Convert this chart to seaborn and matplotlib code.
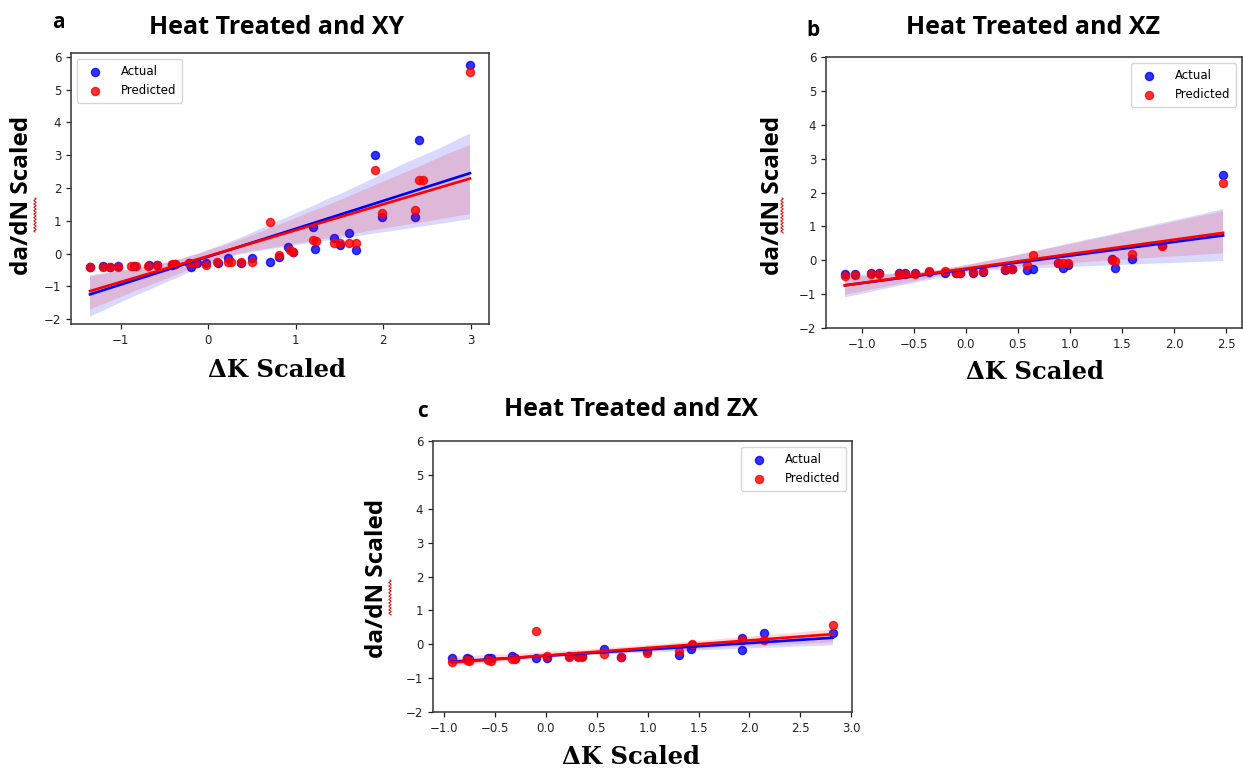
import numpy as np
import matplotlib
matplotlib.use("Agg")
import matplotlib.pyplot as plt
from matplotlib.lines import Line2D
import seaborn as sns

# ---- Heat treated, XY orientation ----
xy_k_actual = [-1.35, -1.20, -1.12, -1.03, -0.85, -0.68, -0.58, -0.41, -0.38, -0.22,
               -0.20, -0.13, -0.02, 0.11, 0.23, 0.38, 0.50, 0.71, 0.81, 0.91,
               0.97, 1.20, 1.22, 1.44, 1.50, 1.61, 1.69, 1.90, 1.98, 2.36,
               2.41, 2.99]
xy_actual = [-0.42, -0.38, -0.40, -0.38, -0.38, -0.35, -0.35, -0.35, -0.32, -0.30,
             -0.40, -0.28, -0.30, -0.28, -0.15, -0.30, -0.15, -0.27, -0.12, 0.21,
             0.04, 0.82, 0.15, 0.46, 0.26, 0.62, 0.11, 3.00, 1.12, 1.12,
             3.46, 5.75]
xy_k_pred = [-1.35, -1.20, -1.12, -1.03, -0.88, -0.83, -0.69, -0.58, -0.41, -0.38,
             -0.22, -0.15, -0.02, 0.10, 0.23, 0.26, 0.38, 0.50, 0.71, 0.81,
             0.93, 0.97, 1.20, 1.23, 1.44, 1.50, 1.61, 1.69, 1.90, 1.98,
             2.36, 2.41, 2.45, 2.99]
xy_pred = [-0.42, -0.42, -0.42, -0.42, -0.38, -0.38, -0.38, -0.35, -0.32, -0.32,
           -0.30, -0.28, -0.35, -0.25, -0.25, -0.25, -0.27, -0.25, 0.95, -0.03,
           0.11, 0.06, 0.41, 0.38, 0.31, 0.31, 0.31, 0.31, 2.55, 1.23,
           1.33, 2.24, 2.24, 5.55]

# ---- Heat treated, XZ orientation ----
xz_k = [-1.16, -1.06, -0.91, -0.83, -0.64, -0.58, -0.49, -0.35, -0.20, -0.09,
        -0.06, 0.07, 0.17, 0.38, 0.44, 0.59, 0.65, 0.89, 0.93, 0.98,
        1.40, 1.43, 1.60, 1.88, 2.47]
xz_actual = [-0.41, -0.42, -0.37, -0.37, -0.37, -0.37, -0.39, -0.34, -0.39, -0.37,
             -0.37, -0.37, -0.35, -0.29, -0.27, -0.30, -0.27, -0.09, -0.24, -0.15,
             0.03, -0.24, 0.03, 0.45, 2.52]
xz_pred = [-0.47, -0.44, -0.42, -0.41, -0.41, -0.41, -0.41, -0.31, -0.32, -0.39,
           -0.39, -0.36, -0.31, -0.27, -0.27, -0.14, 0.15, -0.09, -0.07, -0.07,
           0.01, -0.01, 0.18, 0.43, 2.27]

# ---- Heat treated, ZX orientation ----
zx_k_actual = [-0.92, -0.77, -0.75, -0.57, -0.54, -0.33, -0.30, -0.10, 0.01, 0.23,
               0.32, 0.36, 0.57, 0.74, 0.99, 1.31, 1.43, 1.44, 1.93, 1.93,
               2.14, 2.82]
zx_actual = [-0.40, -0.40, -0.44, -0.40, -0.40, -0.35, -0.40, -0.40, -0.41, -0.36,
             -0.36, -0.36, -0.13, -0.38, -0.20, -0.33, -0.15, -0.03, 0.18, -0.18,
             0.32, 0.32]
zx_k_pred = [-0.92, -0.77, -0.75, -0.57, -0.54, -0.33, -0.30, -0.10, 0.01, 0.23,
             0.32, 0.36, 0.57, 0.74, 0.99, 1.31, 1.44, 1.93, 2.14, 2.82]
zx_pred = [-0.51, -0.47, -0.49, -0.47, -0.49, -0.44, -0.44, 0.38, -0.35, -0.38,
           -0.38, -0.38, -0.28, -0.38, -0.25, -0.20, 0.00, 0.12, 0.12, 0.56]

titles = ["Heat Treated and XY", "Heat Treated and XZ", "Heat Treated and ZX"]
panel_letters = ["a", "b", "c"]
y_ticks = [-2, -1, 0, 1, 2, 3, 4, 5, 6]

W, H = 1243, 774
fig = plt.figure(figsize=(W / 100, H / 100), dpi=100)
fig.patch.set_facecolor("white")


def px_axes(left, top, right, bottom):
    return fig.add_axes([left / W, 1 - bottom / H, (right - left) / W, (bottom - top) / H])


def px_text(x, y, s, **kw):
    fig.text(x / W, 1 - y / H, s, ha="center", va="center", **kw)


def squiggle(x, y0, y1):
    # wavy red underline beside the rotated "dN"
    yy = np.linspace(y0, y1, 200)
    xx = x + 1.1 * np.sin((yy - y0) / 1.7 * np.pi)
    fig.add_artist(Line2D(xx / W, 1 - yy / H, color="#e0201c", lw=0.8,
                          transform=fig.transFigure))


panels = [
    dict(box=(71, 53, 489, 324), ylim=(-2.15, 6.12), legend="upper left",
         xticks=[-1, 0, 1, 2, 3], fmt="{:g}",
         actual=(xy_k_actual, xy_actual), pred=(xy_k_pred, xy_pred),
         title_xy=(277, 27), letter_xy=(58, 23), ylab_xy=(22, 195),
         xlab_xy=(277, 370), squig=(35, 198, 232)),
    dict(box=(826, 57, 1242, 328), ylim=(-2, 6), legend="upper right",
         xticks=[-1.0, -0.5, 0.0, 0.5, 1.0, 1.5, 2.0, 2.5], fmt="{:.1f}",
         actual=(xz_k, xz_actual), pred=(xz_k, xz_pred),
         title_xy=(1033, 27), letter_xy=(813, 30), ylab_xy=(773, 195),
         xlab_xy=(1035, 372), squig=(782, 198, 233)),
    dict(box=(433, 441, 852, 712), ylim=(-2, 6), legend="upper right",
         xticks=[-1.0, -0.5, 0.0, 0.5, 1.0, 1.5, 2.0, 2.5, 3.0], fmt="{:.1f}",
         actual=(zx_k_actual, zx_actual), pred=(zx_k_pred, zx_pred),
         title_xy=(631, 410), letter_xy=(423, 411), ylab_xy=(377, 578),
         xlab_xy=(631, 757), squig=(390, 580, 615)),
]

for i, p in enumerate(panels):
    ax = px_axes(*p["box"])
    sns.regplot(x=p["actual"][0], y=p["actual"][1], ax=ax, color="blue",
                label="Actual", seed=1, scatter_kws={"s": 34},
                line_kws={"lw": 1.9})
    sns.regplot(x=p["pred"][0], y=p["pred"][1], ax=ax, color="red",
                label="Predicted", seed=1, scatter_kws={"s": 34},
                line_kws={"lw": 1.9})
    ax.set_ylim(*p["ylim"])
    ax.set_yticks(y_ticks)
    ax.set_yticklabels([str(t).replace("-", "\u2212") for t in y_ticks])
    ax.set_xticks(p["xticks"])
    ax.set_xticklabels([p["fmt"].format(t).replace("-", "\u2212") for t in p["xticks"]])
    ax.tick_params(labelsize=8.5, colors="#222222", length=3.5, width=0.9)
    for sp in ax.spines.values():
        sp.set_color("#333333")
        sp.set_linewidth(1.1)
    ax.set_xlabel("")
    ax.set_ylabel("")
    handles = [c for c in ax.collections if c.get_label() in ("Actual", "Predicted")]
    ax.legend(handles=handles, loc=p["legend"], fontsize=8.5, borderpad=0.5,
              handletextpad=1.2)

    px_text(*p["title_xy"], titles[i], family="Open Sans", fontweight="bold", fontsize=18)
    px_text(*p["letter_xy"], panel_letters[i], family="Open Sans", fontweight="bold", fontsize=15)
    px_text(*p["ylab_xy"], "da/dN Scaled", family="Open Sans", fontweight="bold",
            fontsize=17.5, rotation=90)
    px_text(*p["xlab_xy"], "\u0394K Scaled", family="DejaVu Serif", fontweight="bold",
            fontsize=17.5)
    squiggle(*p["squig"])

fig.savefig("out.png", dpi=100, facecolor="white")
